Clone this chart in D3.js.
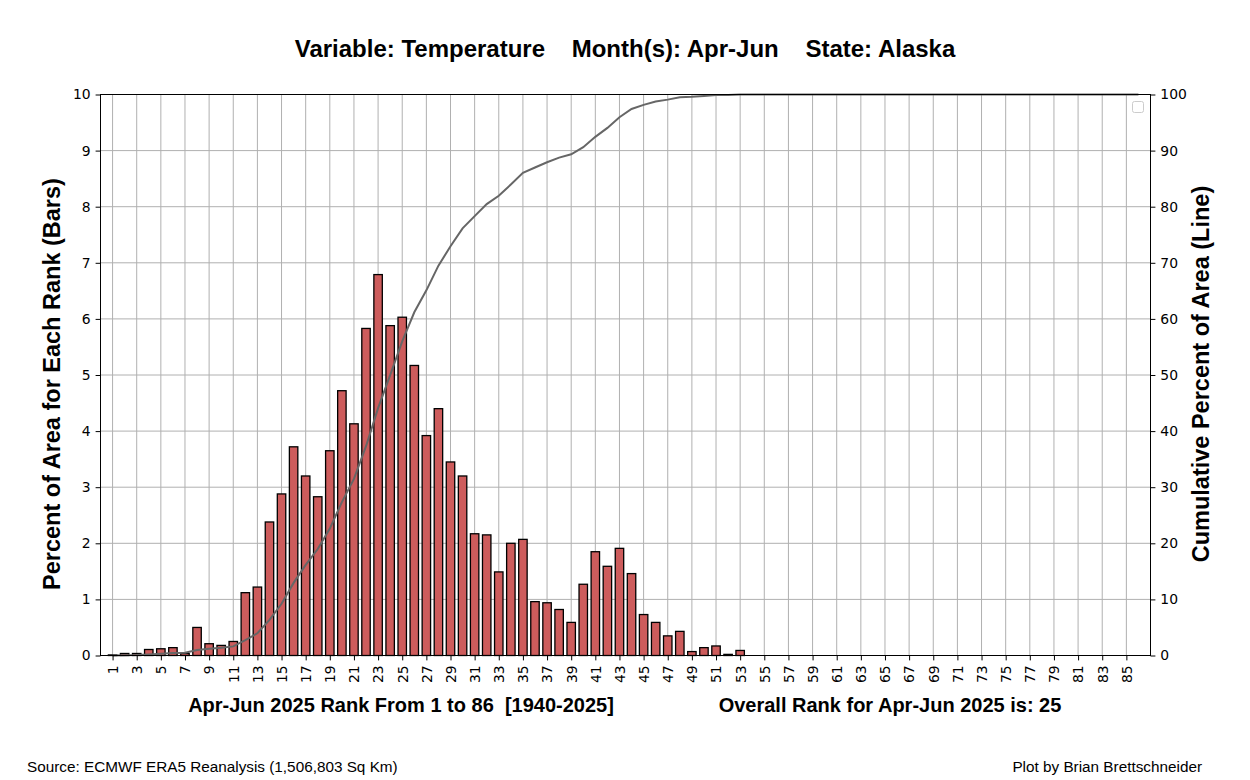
<!DOCTYPE html>
<html>
<head>
<meta charset="utf-8">
<script src="https://cdn.jsdelivr.net/npm/d3@7"></script>
<style>
  body { margin: 0; background: #fff; }
  text { white-space: pre; }
</style>
</head>
<body>
<script>
// ranks 1..86 and percent of area at each rank
var ranks = d3.range(1, 87);
var pctArea = [0.01, 0.036, 0.036, 0.107, 0.12, 0.14, 0.036, 0.5, 0.21, 0.18,
               0.25, 1.12, 1.22, 2.38, 2.88, 3.72, 3.2, 2.83, 3.65, 4.72,
               4.13, 5.83, 6.79, 5.88, 6.03, 5.17, 3.92, 4.4, 3.45, 3.2,
               2.17, 2.15, 1.49, 2.0, 2.07, 0.96, 0.94, 0.82, 0.59, 1.27,
               1.85, 1.59, 1.91, 1.46, 0.73, 0.59, 0.35, 0.43, 0.07, 0.14,
               0.17, 0.02, 0.09, 0, 0, 0, 0, 0, 0, 0,
               0, 0, 0, 0, 0, 0, 0, 0, 0, 0,
               0, 0, 0, 0, 0, 0, 0, 0, 0, 0,
               0, 0, 0, 0, 0, 0];
var cumPct = Array.from(d3.cumsum(pctArea));
var xTickLabels = d3.range(1, 87, 2);
var leftTicks = d3.range(0, 11);
var rightTicks = d3.range(0, 101, 10);

var titleText = "Variable: Temperature    Month(s): Apr-Jun    State: Alaska";
var xLabelLeft = "Apr-Jun 2025 Rank From 1 to 86  [1940-2025]";
var xLabelRight = "Overall Rank for Apr-Jun 2025 is: 25";

var width = 1250, height = 780;
var pLeft = 100.5, pRight = 1150.5, pTop = 94.5, pBottom = 655.5;

var svg = d3.select("body").append("svg")
            .attr("width", width)
            .attr("height", height);

var x = d3.scaleLinear().domain([0, 87]).range([pLeft, pRight]);
var y = d3.scaleLinear().domain([0, 10]).range([pBottom, pTop]);
var y2 = d3.scaleLinear().domain([0, 100]).range([pBottom, pTop]);

// grid
svg.append("g").selectAll("line")
   .data(xTickLabels).enter().append("line")
   .attr("x1", d => x(d)).attr("x2", d => x(d))
   .attr("y1", pTop).attr("y2", pBottom)
   .attr("stroke", "#b0b0b0").attr("stroke-width", 1);
svg.append("g").selectAll("line")
   .data(leftTicks).enter().append("line")
   .attr("x1", pLeft).attr("x2", pRight)
   .attr("y1", d => y(d)).attr("y2", d => y(d))
   .attr("stroke", "#b0b0b0").attr("stroke-width", 1);

// bars
var bw = 0.7;
svg.append("g").selectAll("rect")
   .data(pctArea).enter().append("rect")
   .attr("x", (d, i) => x(ranks[i] - bw / 2))
   .attr("width", x(bw) - x(0))
   .attr("y", d => y(d))
   .attr("height", d => y(0) - y(d))
   .attr("fill", "#cd5c5c")
   .attr("stroke", "#000")
   .attr("stroke-width", 1.3);

// cumulative line
var line = d3.line()
   .x((d, i) => x(ranks[i]))
   .y(d => y2(Math.min(d, 100)));
svg.append("path")
   .datum(cumPct)
   .attr("d", line)
   .attr("fill", "none")
   .attr("stroke", "#666666")
   .attr("stroke-width", 2);

// axes
var xAxis = svg.append("g")
   .attr("transform", "translate(0," + pBottom + ")")
   .call(d3.axisBottom(x).tickValues(xTickLabels).tickSize(4.9).tickFormat(d3.format("d")));
xAxis.selectAll("text")
   .attr("transform", "rotate(-90)")
   .attr("x", -9.8)
   .attr("y", 0)
   .attr("dy", "0.35em")
   .style("text-anchor", "end");

svg.append("g")
   .attr("transform", "translate(" + pLeft + ",0)")
   .call(d3.axisLeft(y).tickValues(leftTicks).tickSize(4.9).tickPadding(4.9));
svg.append("g")
   .attr("transform", "translate(" + pRight + ",0)")
   .call(d3.axisRight(y2).tickValues(rightTicks).tickSize(4.9).tickPadding(4.9));

svg.selectAll(".tick text")
   .attr("font-family", "DejaVu Sans")
   .attr("font-size", 13.9)
   .attr("fill", "#000");
svg.selectAll(".tick line").attr("stroke", "#000").attr("stroke-width", 1);
svg.selectAll(".domain").remove();

svg.append("rect")
   .attr("x", pLeft).attr("y", pTop)
   .attr("width", pRight - pLeft).attr("height", pBottom - pTop)
   .attr("fill", "none").attr("stroke", "#000").attr("stroke-width", 1);

// empty legend box
svg.append("rect")
   .attr("x", 1132.5).attr("y", 101.5)
   .attr("width", 11).attr("height", 11)
   .attr("rx", 2)
   .attr("fill", "#fff").attr("stroke", "#cccccc").attr("stroke-width", 1);

// texts
var font = "Liberation Sans, Arial, sans-serif";
svg.append("text")
   .attr("x", 625).attr("y", 57)
   .attr("text-anchor", "middle")
   .attr("font-family", font).attr("font-weight", "bold").attr("font-size", 24)
   .text(titleText);

svg.append("text")
   .attr("x", 401).attr("y", 712)
   .attr("text-anchor", "middle")
   .attr("font-family", font).attr("font-weight", "bold").attr("font-size", 20)
   .text(xLabelLeft);
svg.append("text")
   .attr("x", 890).attr("y", 712)
   .attr("text-anchor", "middle")
   .attr("font-family", font).attr("font-weight", "bold").attr("font-size", 20)
   .text(xLabelRight);

svg.append("text")
   .attr("transform", "translate(60,384) rotate(-90)")
   .attr("text-anchor", "middle")
   .attr("font-family", font).attr("font-weight", "bold").attr("font-size", 23.5)
   .text("Percent of Area for Each Rank (Bars)");
svg.append("text")
   .attr("transform", "translate(1209,374) rotate(-90)")
   .attr("text-anchor", "middle")
   .attr("font-family", font).attr("font-weight", "bold").attr("font-size", 23.5)
   .text("Cumulative Percent of Area (Line)");

svg.append("text")
   .attr("x", 27).attr("y", 772)
   .attr("font-family", font).attr("font-size", 15.3)
   .text("Source: ECMWF ERA5 Reanalysis (1,506,803 Sq Km)");
svg.append("text")
   .attr("x", 1202).attr("y", 772)
   .attr("text-anchor", "end")
   .attr("font-family", font).attr("font-size", 15.3)
   .text("Plot by Brian Brettschneider");
</script>
</body>
</html>
